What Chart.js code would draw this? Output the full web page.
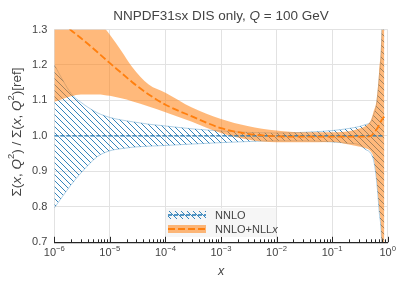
<!DOCTYPE html>
<html>
<head>
<meta charset="utf-8">
<script src="https://cdn.jsdelivr.net/npm/chart.js@4.4.1/dist/chart.umd.min.js"></script>
<style>
    html, body { margin: 0; padding: 0; background: #fff; }
    #wrap { width: 408px; height: 289px; position: relative; }
</style>
</head>
<body>
<div id="wrap"><canvas id="chart"></canvas></div>
<script>
// shared x grid for every curve
const xValues = [1e-6, 2e-6, 3e-6, 6e-6, 1e-5, 1.6e-5, 2.5e-5, 5e-5, 1e-4, 3e-4, 1e-3, 3e-3,
    1e-2, 3e-2, 0.1, 0.2, 0.3, 0.4, 0.5, 0.56, 0.63, 0.7, 0.78, 0.87];

// NNLO
const nnloCentral = [1, 1, 1, 1, 1, 1, 1, 1, 1, 1, 1, 1, 1, 1, 1, 1, 1, 1, 1, 1, 1, 1, 1, 1];
const nnloUpper = [1.20, 1.12, 1.095, 1.065, 1.052, 1.045, 1.040, 1.033, 1.028, 1.020, 1.014, 1.010,
    1.008, 1.010, 1.015, 1.021, 1.026, 1.032, 1.040, 1.060, 1.090, 1.160, 1.280, 1.700];
const nnloLower = [0.797, 0.862, 0.895, 0.942, 0.958, 0.964, 0.968, 0.971, 0.973, 0.977, 0.981, 0.984,
    0.986, 0.986, 0.983, 0.979, 0.976, 0.962, 0.950, 0.930, 0.875, 0.790, 0.690, 0.300];

// NNLO+NLLx
const nllxCentral = [1.338, 1.298, 1.276, 1.236, 1.205, 1.178, 1.152, 1.117, 1.088, 1.055, 1.022, 1.006,
    0.999, 0.998, 0.998, 0.998, 0.998, 0.998, 1.000, 1.008, 1.018, 1.030, 1.045, 1.055];
const nllxUpper = [1.45, 1.43, 1.40, 1.33, 1.285, 1.24, 1.195, 1.145, 1.122, 1.08, 1.048, 1.028,
    1.015, 1.010, 1.010, 1.013, 1.020, 1.028, 1.045, 1.070, 1.100, 1.180, 1.310, 1.800];
const nllxLower = [1.096, 1.112, 1.117, 1.117, 1.113, 1.106, 1.098, 1.083, 1.067, 1.040, 1.008, 0.990,
    0.982, 0.982, 0.983, 0.976, 0.970, 0.965, 0.955, 0.937, 0.880, 0.800, 0.700, 0.300];

// ticks
const xTicks = [1e-6, 1e-5, 1e-4, 1e-3, 1e-2, 1e-1, 1];
const xTickExponents = ['\u22126', '\u22125', '\u22124', '\u22123', '\u22122', '\u22121', '0'];
const yTicks = [0.7, 0.8, 0.9, 1.0, 1.1, 1.2, 1.3];

const FONT = '"Liberation Sans", Arial, sans-serif';
const TEXT = '#444';
const BLUE = '#1f77b4';
const ORANGE = '#ff7f0e';
const ORANGE_FILL = 'rgba(255, 127, 14, 0.55)';
const BLUE_EDGE = 'rgba(31, 119, 180, 0.35)';

const canvas = document.getElementById('chart');
const ctx = canvas.getContext('2d');

// diagonal "\\" hatch
function makeHatch(color, size) {
    const c = document.createElement('canvas');
    c.width = c.height = size;
    const g = c.getContext('2d');
    g.strokeStyle = color;
    g.lineWidth = 0.9;
    g.beginPath();
    [-size, 0, size].forEach(o => { g.moveTo(o, 0); g.lineTo(o + size, size); });
    g.stroke();
    return ctx.createPattern(c, 'repeat');
}
const hatch = makeHatch(BLUE, 6);

const pts = arr => xValues.map((x, i) => ({ x: x, y: arr[i] }));

// draw text made of normal / italic / superscript pieces
function drawRich(c, parts, x, y, size, align) {
    const fontOf = p => (p.i ? 'italic ' : '') + (p.s ? size * 0.7 : size) + 'px ' + FONT;
    let total = 0;
    parts.forEach(p => { c.font = fontOf(p); total += c.measureText(p.t).width; });
    let cx = align === 'center' ? x - total / 2 : x;
    c.textBaseline = 'middle';
    c.textAlign = 'left';
    parts.forEach(p => {
        c.font = fontOf(p);
        c.fillText(p.t, cx, p.s ? y - size * 0.4 : y);
        cx += c.measureText(p.t).width;
    });
}

const overlay = {
    id: 'overlay',
    afterDraw(chart) {
        const c = chart.ctx;
        const xs = chart.scales.x;
        const area = chart.chartArea;
        c.save();

        // inward ticks on the bottom axis
        c.strokeStyle = '#262626';
        c.lineWidth = 1;
        c.beginPath();
        for (let n = -6; n <= 0; n++) {
            const px = Math.round(xs.getPixelForValue(Math.pow(10, n))) + 0.5;
            c.moveTo(px, area.bottom);
            c.lineTo(px, area.bottom - 5.5);
            if (n < 0) {
                for (let k = 2; k <= 9; k++) {
                    const mx = Math.round(xs.getPixelForValue(k * Math.pow(10, n))) + 0.5;
                    c.moveTo(mx, area.bottom);
                    c.lineTo(mx, area.bottom - 3);
                }
            }
        }
        c.stroke();

        c.fillStyle = TEXT;
        // x tick labels
        xTicks.forEach((v, i) => {
            drawRich(c, [{ t: '10' }, { t: xTickExponents[i], s: true }],
                xs.getPixelForValue(v), area.bottom + 11, 11, 'center');
        });

        // x title
        drawRich(c, [{ t: 'x', i: true }], (area.left + area.right) / 2, 272, 12.5, 'center');

        // title
        drawRich(c, [{ t: 'NNPDF31sx DIS only, ' }, { t: 'Q', i: true }, { t: ' = 100 GeV' }],
            (area.left + area.right) / 2, 16, 13.5, 'center');

        // y title
        c.save();
        c.translate(17, 132);
        c.rotate(-Math.PI / 2);
        drawRich(c, [
            { t: '\u03A3(' }, { t: 'x', i: true }, { t: ', ' }, { t: 'Q', i: true }, { t: '2', s: true },
            { t: ') / \u03A3(' }, { t: 'x', i: true }, { t: ', ' }, { t: 'Q', i: true }, { t: '2', s: true },
            { t: ')[ref]' }
        ], 0, 0, 13.5, 'center');
        c.restore();

        // legend
        const lx = 166, ly = 208;
        c.fillStyle = 'rgba(244, 244, 244, 0.85)';
        c.fillRect(lx, ly, 110, 29);

        c.fillStyle = hatch;
        c.fillRect(lx + 2, ly + 3, 38, 8);
        c.strokeStyle = BLUE;
        c.lineWidth = 1.3;
        c.setLineDash([4, 2]);
        c.beginPath();
        c.moveTo(lx + 2, ly + 7);
        c.lineTo(lx + 40, ly + 7);
        c.stroke();

        c.fillStyle = ORANGE_FILL;
        c.fillRect(lx + 2, ly + 17, 38, 8);
        c.strokeStyle = ORANGE;
        c.lineWidth = 1.8;
        c.setLineDash([7, 3]);
        c.beginPath();
        c.moveTo(lx + 2, ly + 21);
        c.lineTo(lx + 40, ly + 21);
        c.stroke();
        c.setLineDash([]);

        c.fillStyle = TEXT;
        drawRich(c, [{ t: 'NNLO' }], lx + 49, ly + 7.5, 11, 'left');
        drawRich(c, [{ t: 'NNLO+NLL' }, { t: 'x', i: true }], lx + 49, ly + 21.5, 11, 'left');

        c.restore();
    }
};

new Chart(ctx, {
    type: 'line',
    data: {
        datasets: [
            { label: 'nnlo lower', data: pts(nnloLower), order: 3, fill: false,
              borderColor: BLUE_EDGE, borderWidth: 1 },
            { label: 'NNLO', data: pts(nnloUpper), order: 3, fill: 0,
              borderColor: BLUE_EDGE, borderWidth: 1, backgroundColor: hatch },
            { label: 'nllx lower', data: pts(nllxLower), order: 2, fill: false,
              borderWidth: 0, borderColor: 'rgba(0,0,0,0)' },
            { label: 'NNLO+NLLx', data: pts(nllxUpper), order: 2, fill: 2,
              borderWidth: 0, borderColor: 'rgba(0,0,0,0)', backgroundColor: ORANGE_FILL },
            { label: 'NNLO central', data: pts(nnloCentral), order: 1, fill: false,
              borderColor: BLUE, borderWidth: 1.3, borderDash: [4, 2] },
            { label: 'NNLO+NLLx central', data: pts(nllxCentral), order: 0, fill: false,
              borderColor: ORANGE, borderWidth: 1.8, borderDash: [7, 3] }
        ]
    },
    options: {
        responsive: true,
        maintainAspectRatio: false,
        animation: false,
        events: [],
        elements: {
            point: { radius: 0 },
            line: { cubicInterpolationMode: 'monotone' }
        },
        layout: { padding: { top: 29.5, right: 20.3, left: 0, bottom: 0 } },
        plugins: {
            legend: { display: false },
            title: { display: false },
            tooltip: { enabled: false }
        },
        scales: {
            x: {
                type: 'logarithmic',
                min: 1e-6,
                max: 1,
                afterBuildTicks: s => { s.ticks = xTicks.map(v => ({ value: v })); },
                afterFit: s => { s.height = 46.7; },
                ticks: { display: false },
                grid: { color: '#e2e2e2', drawTicks: false },
                border: { display: true, color: '#262626', width: 1.2 }
            },
            y: {
                min: 0.7,
                max: 1.3,
                afterBuildTicks: s => { s.ticks = yTicks.map(v => ({ value: v })); },
                afterFit: s => { s.width = 54.3; },
                ticks: {
                    padding: 7,
                    color: TEXT,
                    font: { family: FONT, size: 11 },
                    callback: v => v.toFixed(1)
                },
                grid: { color: '#e2e2e2', drawTicks: false },
                border: { display: false }
            }
        }
    },
    plugins: [overlay]
});
</script>
</body>
</html>
